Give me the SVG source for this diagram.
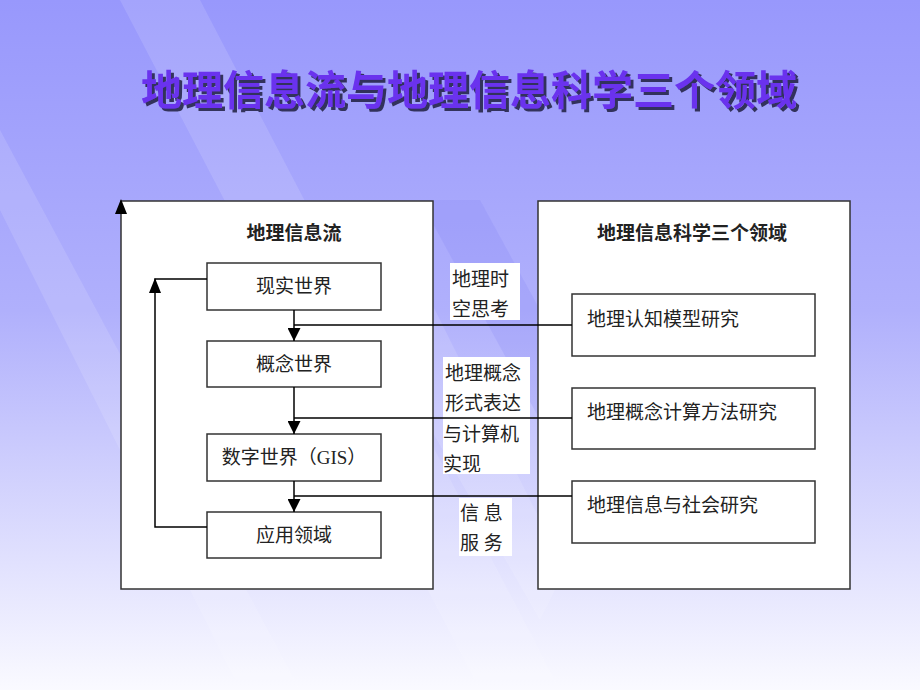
<svg xmlns="http://www.w3.org/2000/svg" width="920" height="690" viewBox="0 0 920 690">
<defs>
<linearGradient id="bg" x1="0" y1="0" x2="0" y2="1">
<stop offset="0" stop-color="#9898fc"/><stop offset="0.45" stop-color="#b0b0fc"/><stop offset="1" stop-color="#fafaff"/>
</linearGradient>
<filter id="sh" x="-5%" y="-30%" width="110%" height="160%"><feDropShadow dx="3" dy="3" stdDeviation="0.6" flood-color="#202040" flood-opacity="0.85"/></filter>
<marker id="ah2" viewBox="0 0 10 10" refX="10" refY="5" markerWidth="13" markerHeight="13" markerUnits="userSpaceOnUse" orient="auto"><path d="M0,0 L10,5 L0,10 z" fill="#000"/></marker>
</defs>
<style>
.box{fill:#fff;stroke:#333;stroke-width:1.5}
.t{font-family:"Liberation Serif","Noto Sans CJK SC",serif;font-size:19px;fill:#222;text-anchor:middle}
.l{font-family:"Liberation Serif","Noto Sans CJK SC",serif;font-size:19px;fill:#222}
.c{fill:none;stroke:#000;stroke-width:1.5}
.h{font-family:"Noto Sans CJK SC",sans-serif;font-weight:bold;font-size:41px;text-anchor:middle}
</style>
<rect width="920" height="690" fill="url(#bg)"/>
<g fill="#fff" opacity="0.12">
<polygon points="0,130 0,210 240,690 300,690"/>
<polygon points="120,0 200,0 560,690 480,690"/>
<polygon points="300,200 540,620 700,300 650,280 540,520 380,200"/>
</g>
<g fill="#7070f0" opacity="0.15"><polygon points="420,200 540,420 660,200 600,200 540,310 480,200"/></g>
<g id="title">
<text class="h" x="469" y="105" fill="#6a33ee" filter="url(#sh)">地理信息流与地理信息科学三个领域</text>
</g>
<g id="left-panel"><rect class="box" x="121" y="201" width="312" height="388"/>
<text class="t" x="294" y="240" font-weight="bold">地理信息流</text></g>
<g id="right-panel"><rect class="box" x="538" y="201" width="312" height="388"/>
<text class="t" x="692" y="240" font-weight="bold">地理信息科学三个领域</text></g>
<g id="n1"><rect class="box" x="207" y="263" width="174" height="47"/><text class="t" x="294" y="293">现实世界</text></g>
<g id="n2"><rect class="box" x="207" y="341" width="174" height="46"/><text class="t" x="294" y="371">概念世界</text></g>
<g id="n3"><rect class="box" x="207" y="434" width="174" height="47"/><text class="t" x="294" y="464">数字世界（GIS）</text></g>
<g id="n4"><rect class="box" x="207" y="512" width="174" height="46"/><text class="t" x="294" y="542">应用领域</text></g>
<g id="r1"><rect class="box" x="572" y="294" width="243" height="62"/><text class="l" x="587" y="326">地理认知模型研究</text></g>
<g id="r2"><rect class="box" x="572" y="388" width="243" height="61"/><text class="l" x="587" y="419">地理概念计算方法研究</text></g>
<g id="r3"><rect class="box" x="572" y="481" width="243" height="62"/><text class="l" x="587" y="512">地理信息与社会研究</text></g>
<g id="labels">
<rect x="450" y="263" width="70" height="57" fill="#fff"/>
<text class="l" x="452" y="286">地理时</text><text class="l" x="452" y="316">空思考</text>
<rect x="443" y="357" width="87" height="117" fill="#fff"/>
<text class="l" x="445" y="380">地理概念</text><text class="l" x="445" y="410">形式表达</text><text class="l" x="443" y="441">与计算机</text><text class="l" x="443" y="471">实现</text>
<rect x="459" y="498" width="53" height="58" fill="#fff"/>
<text class="l" x="460" y="520">信 息</text><text class="l" x="460" y="550">服 务</text>
</g>
<g id="connectors">
<line class="c" x1="294" y1="310" x2="294" y2="341" marker-end="url(#ah2)"/>
<line class="c" x1="294" y1="387" x2="294" y2="434" marker-end="url(#ah2)"/>
<line class="c" x1="294" y1="481" x2="294" y2="512" marker-end="url(#ah2)"/>
<line class="c" x1="572" y1="325" x2="294" y2="325"/>
<line class="c" x1="572" y1="418" x2="294" y2="418"/>
<line class="c" x1="572" y1="496" x2="294" y2="496"/>
<polyline class="c" points="207,527 155,527 155,279 207,279"/>
<path d="M155,278 L149,293 L161,293 z" fill="#000"/>
<path d="M121,199 L115,214 L127,214 z" fill="#000"/>
</g>
</svg>
